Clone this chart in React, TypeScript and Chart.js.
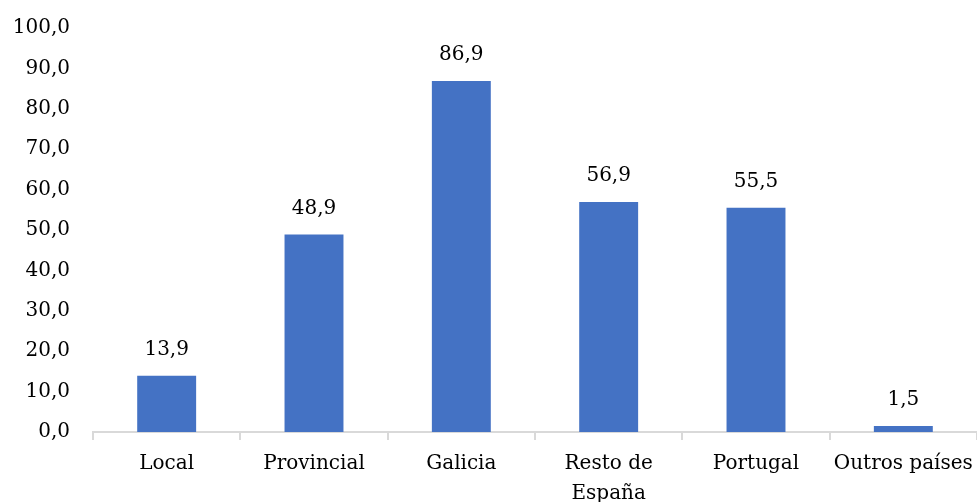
import React, { useEffect, useRef } from "react";
import { Chart, registerables } from "chart.js";

Chart.register(...registerables);

const categories: (string | string[])[] = ["Local", "Provincial", "Galicia", ["Resto de", "España"], "Portugal", "Outros países"];
const values: number[] = [13.9, 48.9, 86.9, 56.9, 55.5, 1.5];
const yTicks: number[] = [0, 10, 20, 30, 40, 50, 60, 70, 80, 90, 100];

const fmt = (v: number) => v.toFixed(1).replace(".", ",");
const FONT = "'DejaVu Serif', serif";

const valueLabels = {
  id: "valueLabels",
  afterDatasetsDraw(chart: any) {
    const ctx = chart.ctx;
    const meta = chart.getDatasetMeta(0);
    ctx.save();
    ctx.font = `20px ${FONT}`;
    ctx.fillStyle = "#000";
    ctx.textAlign = "center";
    ctx.textBaseline = "middle";
    meta.data.forEach((el: any, i: number) => {
      ctx.fillText(fmt(values[i]), el.x, el.y - 26);
    });
    ctx.restore();
  },
};

export default function App() {
  const ref = useRef<HTMLCanvasElement>(null);
  useEffect(() => {
    if (!ref.current) return;
    const chart = new Chart(ref.current, {
      type: "bar",
      data: {
        labels: categories,
        datasets: [
          {
            data: values,
            backgroundColor: "#4472C4",
            barPercentage: 0.8,
            categoryPercentage: 0.5,
          },
        ],
      },
      options: {
        animation: false,
        responsive: false,
        maintainAspectRatio: false,
        layout: { padding: { top: 28, left: 12, right: 0, bottom: 0 } },
        plugins: { legend: { display: false }, tooltip: { enabled: false } },
        scales: {
          x: {
            grid: {
              display: true,
              drawOnChartArea: false,
              drawTicks: true,
              tickLength: 8,
              color: "#d9d9d9",
              lineWidth: 2,
            },
            border: { display: true, color: "#d9d9d9", width: 2 },
            ticks: {
              color: "#000",
              font: { family: FONT, size: 20, lineHeight: 1.5 },
              padding: 9,
              maxRotation: 0,
              autoSkip: false,
            },
            afterFit: (scale: any) => {
              scale.height = 70;
              scale.paddingRight = 0;
              scale.paddingLeft = 0;
            },
          },
          y: {
            min: 0,
            max: 100,
            grid: { display: false, drawTicks: false },
            border: { display: false },
            afterBuildTicks: (scale: any) => {
              scale.ticks = yTicks.map((v) => ({ value: v }));
            },
            ticks: {
              color: "#000",
              font: { family: FONT, size: 20 },
              padding: 23,
              callback: (v: any) => fmt(Number(v)),
            },
            afterFit: (scale: any) => {
              scale.width = 81;
              scale.paddingTop = 0;
              scale.paddingBottom = 0;
            },
          },
        },
      },
      plugins: [valueLabels],
    });
    return () => chart.destroy();
  }, []);
  return (
    <div style={{ position: "absolute", left: 0, top: 0, width: 977, height: 502, background: "#fff" }}>
      <canvas ref={ref} width={977} height={502} style={{ width: 977, height: 502 }} />
    </div>
  );
}
